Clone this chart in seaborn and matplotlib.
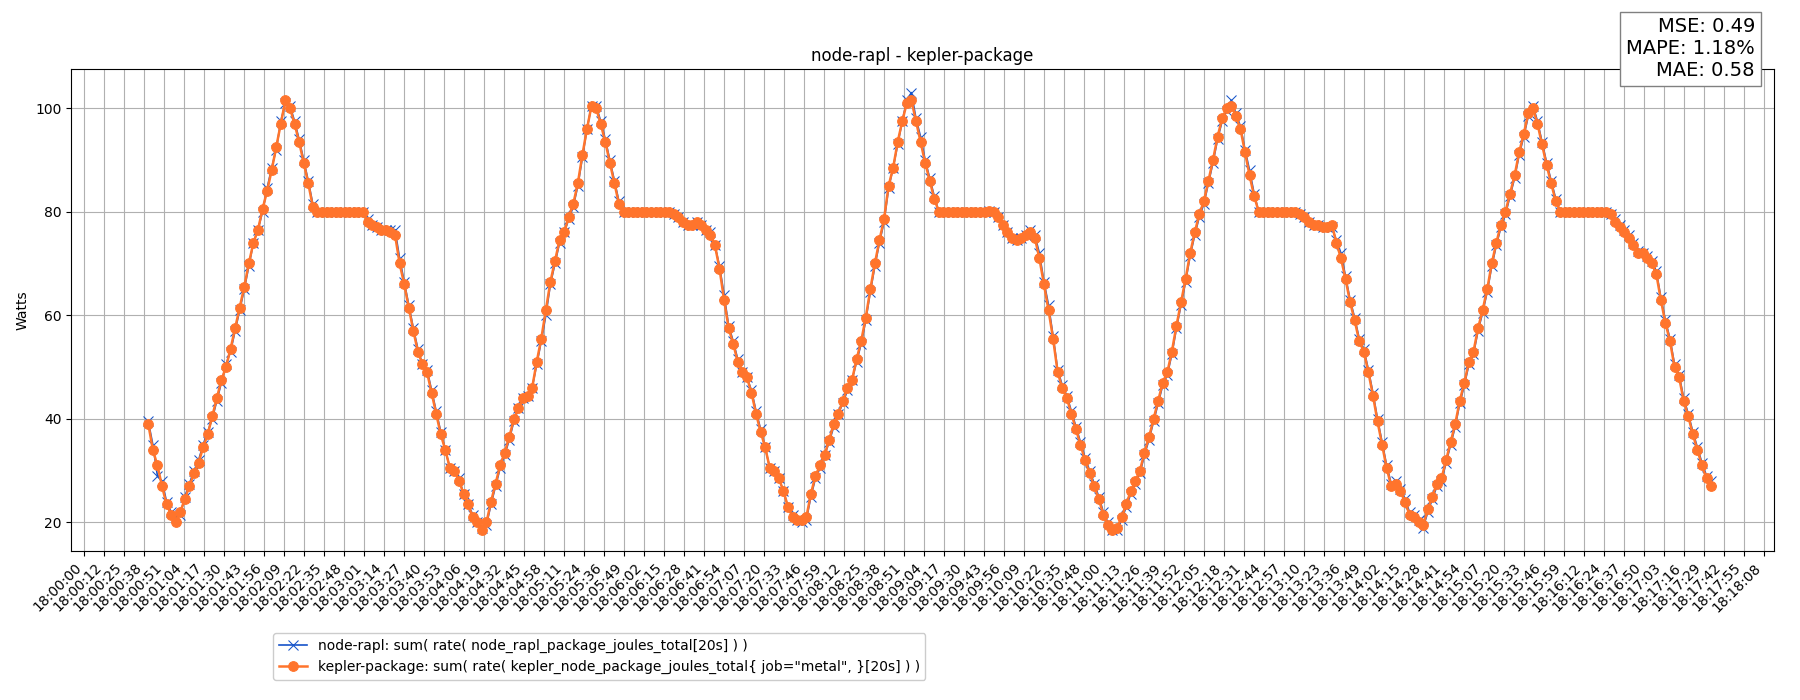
import numpy as np
import matplotlib
matplotlib.use("Agg")
import matplotlib.pyplot as plt
import seaborn as sns

# sample times in seconds after 18:00:00 (~3 s scrape interval starting 18:00:41)
start_s = 41.5
step_s = 2.96

kepler_package = [
 39, 34, 31, 27, 23.5, 21.5, 20, 22, 24.5, 27, 29.5, 31.5, 34.5, 37, 40.5, 44, 47.5, 50, 53.5, 57.5,
 61.5, 65.5, 70, 74, 76.5, 80.5, 84, 88, 92.5, 97, 101.5, 100, 97, 93.5, 89.5, 85.5, 81, 80, 80, 80,
 80, 80, 80, 80, 80, 80, 80, 80, 78, 77.5, 77, 76.5, 76.5, 76, 75.5, 70, 66, 61.5, 57, 53,
 50.5, 49, 45, 41, 37, 34, 30.5, 30, 28, 25.5, 23.5, 21, 20, 18.5, 20, 24, 27.5, 31, 33.5, 36.5,
 40, 42, 44, 44.5, 46, 51, 55.5, 61, 66.5, 70.5, 74.5, 76, 79, 81.5, 85.5, 91, 96, 100.5, 100, 97,
 93.5, 89.5, 85.5, 81.5, 80, 80, 80, 80, 80, 80, 80, 80, 80, 80, 80, 79.5, 79, 78, 77.5, 77.5,
 78, 77.5, 76.5, 75.5, 73.5, 69, 63, 57.5, 54.5, 51, 49, 48, 45, 41, 37.5, 34.5, 30.5, 30, 28.5, 26,
 23, 21, 20.5, 20.5, 21, 25.5, 29, 31, 33, 36, 39, 41, 43.5, 46, 47.5, 51.5, 55, 59.5, 65, 70,
 74.5, 78.5, 85, 88.5, 93.5, 97.5, 101, 101.5, 97.5, 93.5, 89.5, 86, 82.5, 80, 80, 80, 80, 80, 80, 80,
 80, 80, 80, 80, 80.2, 80, 79, 77.5, 76, 75, 74.5, 75, 75.5, 76, 75, 71, 66, 61, 55.5, 49,
 46, 44, 41, 38, 35, 32, 29.5, 27, 24.5, 21.5, 19.5, 18.5, 19, 21, 23.5, 26, 28, 30, 33.5, 36.5,
 40, 43.5, 47, 49, 53, 58, 62.5, 67, 72, 76, 79.5, 82, 86, 90, 94.5, 98, 100, 100.5, 98.5, 96,
 91.5, 87, 83, 80, 80, 80, 80, 80, 80, 80, 80, 80, 79.5, 79, 78, 77.5, 77.5, 77, 77, 77.5,
 74, 71, 67, 62.5, 59, 55, 53, 49, 44.5, 39.5, 35, 30.5, 27, 27.5, 26, 24, 21.5, 21, 20, 19.5,
 22.5, 25, 27.5, 28.5, 32, 35.5, 39, 43.5, 47, 51, 53, 57.5, 61, 65, 70, 74, 77.5, 80, 83.5, 87,
 91.5, 95, 99, 100, 97, 93, 89, 85.5, 82, 80, 80, 80, 80, 80, 80, 80, 80, 80, 80, 80,
 79.5, 78, 77, 76, 75, 73.5, 72, 72, 71, 70, 68, 63, 58.5, 55, 50, 48, 43.5, 40.5, 37, 34,
 31, 28.5, 27,
]

node_rapl = [
 39.5, 35, 29, 28, 24, 22, 21, 21.5, 25, 27.5, 30, 32, 35, 37.5, 40, 43.5, 47, 50.5, 53, 57,
 61, 65, 69.5, 74, 76.5, 80, 84.5, 88.5, 92, 97.5, 101, 100.5, 97.5, 94, 90, 86, 81.5, 80, 80, 80,
 80, 80, 80, 80, 80, 80, 80, 80, 78.5, 77.5, 77, 76.5, 76.5, 76.5, 76.5, 71, 66.5, 62, 57.5, 53.5,
 50.5, 49.5, 45.5, 41.5, 37.5, 34, 30.5, 30, 28.5, 25.5, 23.5, 21.5, 20, 19, 19.5, 23.5, 27, 30.5, 33, 36,
 39.5, 42, 44, 44.5, 46, 50.5, 55, 60, 66, 70, 74, 76, 78.5, 81, 85, 90.5, 96, 100.5, 100.5, 97.5,
 94, 90, 86, 82, 80, 80, 80, 80, 80, 80, 80, 80, 80, 80, 80, 79.5, 79, 78, 77.5, 77.5,
 78, 77.5, 76.5, 76, 73.5, 69.5, 64, 58, 55, 51.5, 49, 48, 45.5, 41.5, 38, 34.5, 30.5, 30, 28.5, 26,
 23, 21.5, 20.5, 20, 20.5, 25, 28.5, 30.5, 33, 35.5, 38.5, 41, 43, 45.5, 47.5, 51, 54.5, 59, 64.5, 69.5,
 74, 78, 84.5, 88.5, 93, 97.5, 101.5, 103, 98, 94.5, 90, 86.5, 83, 80, 80, 80, 80, 80, 80, 80,
 80, 80, 80, 80, 80.2, 80, 79, 77.5, 76, 75, 74.5, 75, 75.5, 76.5, 75.5, 72, 66.5, 62, 56, 49.5,
 46.5, 44.5, 41.5, 38.5, 35.5, 32.5, 30, 27.5, 25, 22, 20, 18.5, 18.5, 20.5, 23, 25.5, 27.5, 29.5, 33, 36,
 39.5, 43, 46.5, 48.5, 52.5, 57.5, 62, 66.5, 71.5, 75.5, 79, 81.5, 85.5, 89.5, 94, 97.5, 99.5, 101.5, 99, 96.5,
 92, 88, 83.5, 80, 80, 80, 80, 80, 80, 80, 80, 80, 79.5, 79, 78, 77.5, 77.5, 77, 77, 77,
 74.5, 72, 67.5, 63, 59.5, 55.5, 53.5, 49.5, 45, 40, 35.5, 31, 27.5, 28, 26.5, 24.5, 22, 21.5, 20.5, 19,
 22, 24.5, 27, 28, 31.5, 35, 38.5, 43, 46.5, 50.5, 52.5, 57, 60.5, 64.5, 69.5, 73.5, 77, 79.5, 83, 86.5,
 91, 94.5, 98.5, 100.5, 97.5, 93.5, 89.5, 86, 82.5, 80, 80, 80, 80, 80, 80, 80, 80, 80, 80, 80,
 79.5, 78.5, 77.5, 76.5, 75.5, 74, 72.5, 72, 71.5, 70.5, 68.5, 63.5, 59, 55.5, 50.5, 48.5, 44, 41, 37.5, 34.5,
 31.5, 29, 28,
]

tick_labels = [
 "18:00:00", "18:00:12", "18:00:25", "18:00:38", "18:00:51", "18:01:04", "18:01:17", "18:01:30",
 "18:01:43", "18:01:56", "18:02:09", "18:02:22", "18:02:35", "18:02:48", "18:03:01", "18:03:14",
 "18:03:27", "18:03:40", "18:03:53", "18:04:06", "18:04:19", "18:04:32", "18:04:45", "18:04:58",
 "18:05:11", "18:05:24", "18:05:36", "18:05:49", "18:06:02", "18:06:15", "18:06:28", "18:06:41",
 "18:06:54", "18:07:07", "18:07:20", "18:07:33", "18:07:46", "18:07:59", "18:08:12", "18:08:25",
 "18:08:38", "18:08:51", "18:09:04", "18:09:17", "18:09:30", "18:09:43", "18:09:56", "18:10:09",
 "18:10:22", "18:10:35", "18:10:48", "18:11:00", "18:11:13", "18:11:26", "18:11:39", "18:11:52",
 "18:12:05", "18:12:18", "18:12:31", "18:12:44", "18:12:57", "18:13:10", "18:13:23", "18:13:36",
 "18:13:49", "18:14:02", "18:14:15", "18:14:28", "18:14:41", "18:14:54", "18:15:07", "18:15:20",
 "18:15:33", "18:15:46", "18:15:59", "18:16:12", "18:16:24", "18:16:37", "18:16:50", "18:17:03",
 "18:17:16", "18:17:29", "18:17:42", "18:17:55", "18:18:08",
]
tick_span_s = 1088

label_node = 'node-rapl: sum( rate( node_rapl_package_joules_total[20s] ) )'
label_kepler = 'kepler-package: sum( rate( kepler_node_package_joules_total{ job="metal", }[20s] ) )'
stats_text = "MSE: 0.49\nMAPE: 1.18%\nMAE: 0.58"

n = min(len(kepler_package), len(node_rapl))
t = start_s + step_s * np.arange(n)

fig = plt.figure(figsize=(18, 7), dpi=100)
ax = fig.add_axes([0.0395, 0.213, 0.946, 0.688])

sns.lineplot(x=t, y=node_rapl[:n], ax=ax, color="#1553c9", marker="x", markersize=7,
             markeredgecolor="#1553c9", linewidth=1.2, label=label_node, zorder=2)
sns.lineplot(x=t, y=kepler_package[:n], ax=ax, color="#ff742c", marker="o", markersize=7,
             markeredgecolor="#ff742c", linewidth=1.8, label=label_kepler, zorder=3)

ax.set_xlim(-8.5, 1094.5)
ax.set_ylim(14.5, 107.5)
ax.set_xticks(np.linspace(0, tick_span_s, len(tick_labels)))
ax.set_xticklabels(tick_labels, rotation=45, ha="right", fontsize=10)
ax.set_yticks([20, 40, 60, 80, 100])
ax.tick_params(axis="y", labelsize=10)
ax.grid(True, color="#b0b0b0", linewidth=0.8)
ax.set_axisbelow(True)
ax.set_xlabel("")
ax.set_ylabel("Watts", fontsize=10)
ax.set_title("node-rapl - kepler-package", fontsize=12)

handles, labels = ax.get_legend_handles_labels()
ax.get_legend().remove()
fig.legend(handles, labels, loc="upper left", bbox_to_anchor=(0.148, 0.105), fontsize=10, framealpha=1)

fig.text(0.975, 0.975, stats_text, ha="right", va="top", fontsize=14,
         bbox=dict(boxstyle="square,pad=0.3", facecolor="white", edgecolor="#808080"))

fig.savefig("out.png", dpi=100)
